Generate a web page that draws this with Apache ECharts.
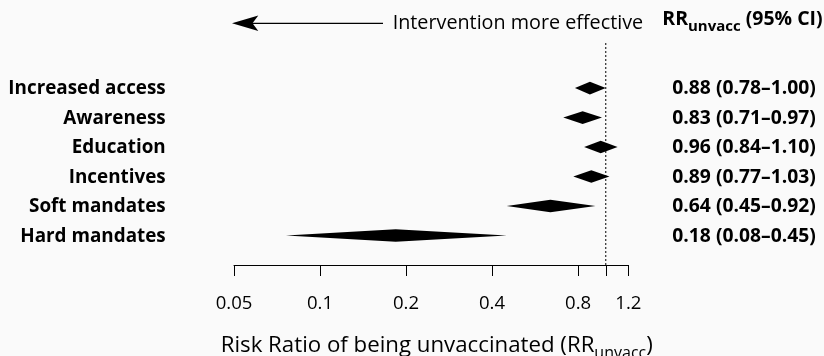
<!DOCTYPE html>
<html><head><meta charset="utf-8">
<script src="https://cdn.jsdelivr.net/npm/echarts@6/dist/echarts.min.js"></script>
<style>html,body{margin:0;padding:0;background:#fafafa}#c{width:824px;height:356px}</style>
</head><body><div id="c"></div>
<script>
// ---- data ----
const categories = ['Increased access','Awareness','Education','Incentives','Soft mandates','Hard mandates'];
const rrEst  = [0.88, 0.83, 0.96, 0.89, 0.64, 0.184];
const rrLow  = [0.78, 0.71, 0.84, 0.77, 0.45, 0.076];
const rrHigh = [1.00, 0.97, 1.10, 1.03, 0.92, 0.45];
const tickValues  = [0.05, 0.1, 0.2, 0.4, 0.8, 1, 1.2];
const labelValues = [0.05, 0.1, 0.2, 0.4, 0.8, 1.2];
const tickLabels  = ['0.05', '0.1', '0.2', '0.4', '0.8', '1.2'];
const refValue = 1;
const axisMin = 0.05, axisMax = 1.2;

// ---- text metrics helpers ----
const FAMILY = 'Open Sans';
const ctx = document.createElement('canvas').getContext('2d');
function tw(text, size, weight){ ctx.font = (weight||'normal') + ' ' + size + 'px "' + FAMILY + '"'; return ctx.measureText(text).width; }
function fit(text, weight, target){ return 100 * target / tw(text, 100, weight); }
function fitParts(parts, weight, target){ let t = 0; parts.forEach(p => t += tw(p[0], 100 * p[1], weight)); return 100 * target / t; }
const K = 0.388;
function richLine(x, yc, parts, weight, S, subDrop){
  const els = []; let cx = x;
  parts.forEach(p => {
    const size = S * p[1];
    const isSub = p[1] < 1;
    const y = isSub ? yc + K * S + subDrop - K * size : yc;
    els.push({type:'text', x: cx, y: y, silent:true,
      style:{text:p[0], fontFamily:FAMILY, fontSize:size, fontWeight:weight, fill:'#000', align:'left', verticalAlign:'middle'}});
    cx += tw(p[0], size, weight);
  });
  return els;
}

const fsLeft  = fit('Increased access', 'bold', 157.4);
const fsRight = fit('0.88 (0.78\u20131.00)', 'bold', 143.7);
const fsArrow = fit('Intervention more effective', 'normal', 250.6);
const fsTick  = fit('0.05', 'normal', 36.7);
const headerParts = [['RR',1],['unvacc',0.77],[' (95% CI)',1]];
const fsHeader = fitParts(headerParts, 'bold', 160.4);
const titleParts = [['Risk Ratio of being unvaccinated (RR',1],['unvacc',0.72],[')',1]];
const fsTitle = fitParts(titleParts, 'normal', 432.3);

const L = Math.log10;
const ciText = categories.map((c, i) => rrEst[i].toFixed(2) + ' (' + rrLow[i].toFixed(2) + '\u2013' + rrHigh[i].toFixed(2) + ')');
const seriesData = categories.map((c, i) => [i, L(rrLow[i]), L(rrEst[i]), L(rrHigh[i])]);

const yMin = -1.53, yMax = 6;

const chart = echarts.init(document.getElementById('c'));
chart.setOption({
  backgroundColor: '#fafafa',
  animation: false,
  grid: {left: 234, right: 195.6, top: 43, bottom: 91, outerBoundsMode: 'none'},
  xAxis: {
    type: 'value', min: L(axisMin), max: L(axisMax),
    splitLine: {show: false},
    axisLine: {show: true, onZero: false, lineStyle: {color: '#000', width: 1}},
    axisTick: {show: true, length: 11, lineStyle: {color: '#000', width: 1}, customValues: tickValues.map(L)},
    axisLabel: {
      customValues: labelValues.map(L), margin: 38.5, verticalAlign: 'middle',
      color: '#000', fontFamily: FAMILY, fontSize: fsTick,
      formatter: v => { let best = 0; labelValues.forEach((lv, j) => { if (Math.abs(L(lv) - v) < Math.abs(L(labelValues[best]) - v)) best = j; }); return tickLabels[best]; }
    }
  },
  yAxis: {type: 'value', inverse: true, min: yMin, max: yMax, show: false},
  series: [
    {
      type: 'custom', clip: false,
      data: [[L(refValue)]],
      encode: {x: 0},
      renderItem: (params, api) => {
        const top = api.coord([api.value(0), yMin]);
        const bot = api.coord([api.value(0), yMax]);
        return {type:'line', shape:{x1: top[0], y1: top[1], x2: bot[0], y2: bot[1]},
          style:{stroke:'#000', lineWidth:1, lineDash:[2,2]}};
      }
    },
    {
      type: 'custom', clip: false,
      data: seriesData,
      encode: {x: [1,2,3], y: 0},
      renderItem: (params, api) => {
        const i = params.dataIndex;
        const row = api.value(0);
        const pLo = api.coord([api.value(1), row]);
        const pEst = api.coord([api.value(2), row]);
        const pHi = api.coord([api.value(3), row]);
        const h = 6.3, y = pEst[1];
        return {type:'group', children:[
          {type:'polygon', shape:{points:[[pLo[0], y],[pEst[0], y - h],[pHi[0], y],[pEst[0], y + h]]}, style:{fill:'#000'}},
          {type:'text', x: 165.7, y: y + 0.8, style:{text: categories[i], fontFamily: FAMILY, fontWeight:'bold', fontSize: fsLeft, fill:'#000', align:'right', verticalAlign:'middle'}},
          {type:'text', x: 672.3, y: y + 0.8, style:{text: ciText[i], fontFamily: FAMILY, fontWeight:'bold', fontSize: fsRight, fill:'#000', align:'left', verticalAlign:'middle'}}
        ]};
      }
    }
  ],
  graphic: {elements: [
    {type:'line', silent:true, shape:{x1:250, y1:23.3, x2:383, y2:23.3}, style:{stroke:'#000', lineWidth:1.2}},
    {type:'polygon', silent:true, shape:{points:[[232,23.2],[258.3,15.4],[252.5,23.2],[258.3,31]]}, style:{fill:'#000'}},
    {type:'text', silent:true, x:392.7, y:23.8, style:{text:'Intervention more effective', fontFamily:FAMILY, fontSize:fsArrow, fill:'#000', align:'left', verticalAlign:'middle'}}
  ].concat(richLine(662.3, 19.8, headerParts, 'bold', fsHeader, 5))
   .concat(richLine(220.7, 346, titleParts, 'normal', fsTitle, 5))}
});
</script></body></html>
